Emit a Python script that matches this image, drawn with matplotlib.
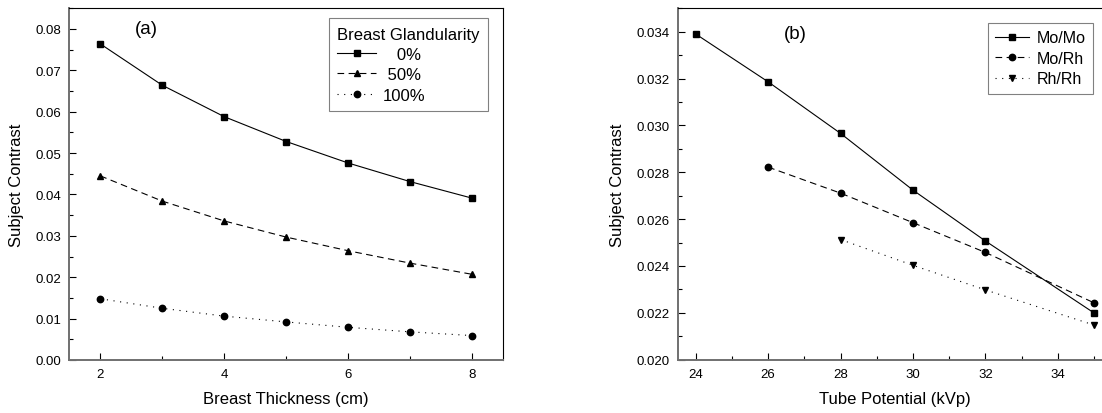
import numpy as np
import matplotlib.pyplot as plt
from matplotlib.ticker import MultipleLocator, FormatStrFormatter

plt.rcParams['font.family'] = ['Liberation Sans', 'DejaVu Sans']

# panel (a): subject contrast vs breast thickness
thickness = [2, 3, 4, 5, 6, 7, 8]
gland_labels = ['   0%', ' 50%', '100%']
gland_0 = [0.0764, 0.0664, 0.0588, 0.0528, 0.0476, 0.0431, 0.0391]
gland_50 = [0.0445, 0.0384, 0.0336, 0.0297, 0.0264, 0.0234, 0.0207]
gland_100 = [0.0148, 0.0125, 0.0106, 0.0092, 0.0079, 0.0068, 0.0059]

# panel (b): subject contrast vs tube potential
kvp_momo = [24, 26, 28, 30, 32, 35]
momo = [0.0339, 0.03186, 0.02966, 0.02724, 0.02507, 0.0220]
kvp_morh = [26, 28, 30, 32, 35]
morh = [0.02822, 0.02711, 0.02585, 0.02458, 0.02243]
kvp_rhrh = [28, 30, 32, 35]
rhrh = [0.02513, 0.02403, 0.02298, 0.02148]
target_labels = ['Mo/Mo', 'Mo/Rh', 'Rh/Rh']

W, H = 1102, 414
fig = plt.figure(figsize=(W / 100, H / 100), dpi=100)


def px_axes(x0, x1, y0, y1):
    return fig.add_axes([x0 / W, 1 - y1 / H, (x1 - x0) / W, (y1 - y0) / H])


def style_axes(ax):
    for side in ['left', 'bottom']:
        ax.spines[side].set_color('#707070')
        ax.spines[side].set_linewidth(1.4)
    for side in ['top', 'right']:
        ax.spines[side].set_color('black')
        ax.spines[side].set_linewidth(0.8)
    ax.tick_params(which='both', direction='in', top=False, right=False,
                   labelsize=9.5, width=0.8, color='black', pad=6)
    ax.tick_params(which='major', length=5)
    ax.tick_params(which='minor', length=3)


line_kw = dict(color='black', linewidth=0.8, markersize=4.6)

ax1 = px_axes(69.3, 503.3, 9.3, 361)
ax1.plot(thickness, gland_0, marker='s', linestyle='-', label=gland_labels[0], **line_kw)
ax1.plot(thickness, gland_50, marker='^', dashes=(6, 4), label=gland_labels[1], **line_kw)
ax1.plot(thickness, gland_100, marker='o', dashes=(1, 5), label=gland_labels[2], **line_kw)
ax1.set_xlim(1.5, 8.5)
ax1.set_ylim(0, 0.085)
ax1.xaxis.set_major_locator(MultipleLocator(2))
ax1.xaxis.set_minor_locator(MultipleLocator(1))
ax1.yaxis.set_major_locator(MultipleLocator(0.01))
ax1.yaxis.set_minor_locator(MultipleLocator(0.005))
ax1.yaxis.set_major_formatter(FormatStrFormatter('%.2f'))
style_axes(ax1)
ax1.set_xlabel('Breast Thickness (cm)', fontsize=12, labelpad=8)
ax1.set_ylabel('Subject Contrast', fontsize=12, labelpad=8)
ax1.text(0.177, 0.943, '(a)', transform=ax1.transAxes, fontsize=13.5, ha='center', va='center')
leg1 = ax1.legend(title='Breast Glandularity', loc='upper left',
                  bbox_to_anchor=(329 / W, 1 - 19.3 / H), bbox_transform=fig.transFigure,
                  fontsize=12, title_fontsize=12, alignment='left', fancybox=False,
                  edgecolor='#808080', framealpha=1, handlelength=2.3,
                  borderpad=0.5, labelspacing=0.32, handletextpad=0.45,
                  borderaxespad=0)
leg1.get_frame().set_linewidth(0.8)

ax2 = px_axes(677.7, 1112, 9.3, 360.7)
ax2.plot(kvp_momo, momo, marker='s', linestyle='-', label=target_labels[0], **line_kw)
ax2.plot(kvp_morh, morh, marker='o', dashes=(6, 4), label=target_labels[1], **line_kw)
ax2.plot(kvp_rhrh, rhrh, marker='v', dashes=(1, 5), label=target_labels[2], **line_kw)
ax2.set_xlim(23.5, 35.5)
ax2.set_ylim(0.020, 0.035)
ax2.xaxis.set_major_locator(MultipleLocator(2))
ax2.xaxis.set_minor_locator(MultipleLocator(1))
ax2.yaxis.set_major_locator(MultipleLocator(0.002))
ax2.yaxis.set_minor_locator(MultipleLocator(0.001))
ax2.yaxis.set_major_formatter(FormatStrFormatter('%.3f'))
style_axes(ax2)
ax2.set_xlabel('Tube Potential (kVp)', fontsize=12, labelpad=8)
ax2.set_ylabel('Subject Contrast', fontsize=12, labelpad=8)
ax2.text(0.27, 0.927, '(b)', transform=ax2.transAxes, fontsize=13.5, ha='center', va='center')
leg2 = ax2.legend(loc='upper left',
                  bbox_to_anchor=(988 / W, 1 - 24 / H), bbox_transform=fig.transFigure,
                  fontsize=11.5, fancybox=False, edgecolor='#808080', framealpha=1,
                  handlelength=2.1, borderpad=0.45, labelspacing=0.35, handletextpad=0.5,
                  borderaxespad=0)
leg2.get_frame().set_linewidth(0.8)

fig.savefig('out.png', dpi=100)
